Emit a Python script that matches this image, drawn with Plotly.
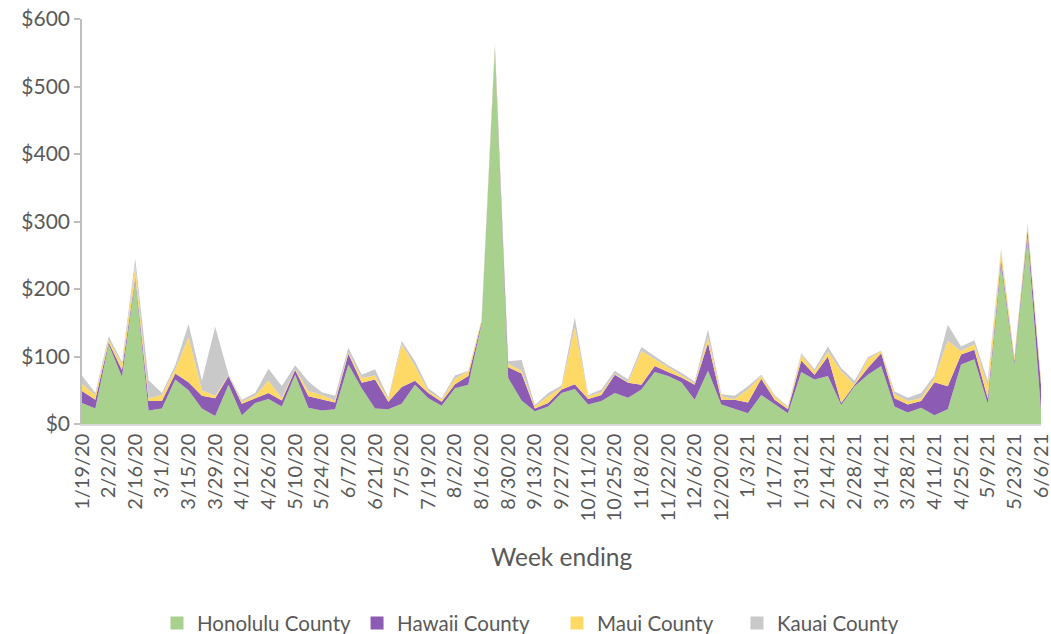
import plotly.graph_objects as go

weeks = ["1/19/20", "1/26/20", "2/2/20", "2/9/20", "2/16/20", "2/23/20", "3/1/20", "3/8/20",
         "3/15/20", "3/22/20", "3/29/20", "4/5/20", "4/12/20", "4/19/20", "4/26/20", "5/3/20",
         "5/10/20", "5/17/20", "5/24/20", "5/31/20", "6/7/20", "6/14/20", "6/21/20", "6/28/20",
         "7/5/20", "7/12/20", "7/19/20", "7/26/20", "8/2/20", "8/9/20", "8/16/20", "8/23/20",
         "8/30/20", "9/6/20", "9/13/20", "9/20/20", "9/27/20", "10/4/20", "10/11/20", "10/18/20",
         "10/25/20", "11/1/20", "11/8/20", "11/15/20", "11/22/20", "11/29/20", "12/6/20", "12/13/20",
         "12/20/20", "12/27/20", "1/3/21", "1/10/21", "1/17/21", "1/24/21", "1/31/21", "2/7/21",
         "2/14/21", "2/21/21", "2/28/21", "3/7/21", "3/14/21", "3/21/21", "3/28/21", "4/4/21",
         "4/11/21", "4/18/21", "4/25/21", "5/2/21", "5/9/21", "5/16/21", "5/23/21", "5/30/21",
         "6/6/21"]

honolulu = [31, 23, 118, 70, 214, 20, 23, 66, 50, 23, 12, 58, 13, 31, 37, 26, 73, 24, 20, 22,
            88, 53, 23, 22, 30, 58, 38, 27, 53, 58, 148, 555, 68, 35, 19, 26, 46, 52, 29, 34,
            46, 39, 51, 77, 71, 62, 36, 79, 29, 23, 16, 43, 29, 16, 77, 66, 71, 28, 56, 73,
            86, 26, 17, 24, 13, 22, 88, 96, 30, 237, 88, 278, 20]
hawaii = [18, 13, 3, 10, 4, 14, 11, 9, 12, 19, 26, 13, 17, 7, 9, 9, 7, 17, 16, 10,
          16, 8, 43, 11, 25, 6, 8, 6, 6, 13, 3, 3, 16, 40, 4, 5, 5, 7, 8, 9,
          27, 22, 7, 9, 6, 7, 22, 41, 7, 13, 16, 24, 7, 6, 17, 7, 29, 3, 2, 10,
          19, 12, 12, 10, 49, 34, 15, 14, 8, 8, 5, 9, 38]
maui = [10, 7, 4, 8, 16, 4, 9, 6, 66, 8, 4, 1, 3, 4, 18, 3, 1, 8, 7, 3,
        2, 7, 6, 3, 63, 22, 3, 3, 8, 7, 3, 3, 5, 4, 3, 10, 3, 84, 4, 4,
        1, 1, 50, 10, 6, 3, 2, 8, 5, 1, 19, 4, 5, 2, 8, 5, 7, 47, 1, 13,
        3, 6, 5, 4, 6, 67, 5, 8, 18, 12, 5, 8, 6]
kauai = [13, 3, 5, 4, 11, 27, 3, 6, 20, 14, 102, 1, 3, 4, 18, 18, 6, 14, 4, 7,
         7, 5, 9, 3, 5, 7, 4, 2, 5, 1, 1, 4, 4, 16, 2, 5, 3, 15, 2, 4,
         5, 4, 6, 4, 4, 4, 3, 12, 3, 5, 5, 2, 2, 2, 3, 3, 8, 5, 5, 3,
         1, 4, 5, 8, 4, 24, 7, 6, 8, 3, 2, 3, 2]

series = [
    ("Honolulu County", honolulu, "#A9D18E"),
    ("Hawaii County", hawaii, "#8C5BB3"),
    ("Maui County", maui, "#FFD966"),
    ("Kauai County", kauai, "#C9C9C9"),
]

y_ticks = [0, 100, 200, 300, 400, 500, 600]
y_labels = ["$0", "$100", "$200", "$300", "$400", "$500", "$600"]

legend_ids = ["legend", "legend2", "legend3", "legend4"]
legend_x = [0.0782, 0.2868, 0.4953, 0.6830]

fig = go.Figure()
for name, vals, color in series:
    fig.add_trace(go.Scatter(
        x=weeks, y=vals, name=name, mode="lines", stackgroup="one",
        line=dict(width=0, color=color), fillcolor=color, showlegend=False,
    ))
# legend entries with square swatches
for (name, vals, color), lid in zip(series, legend_ids):
    fig.add_trace(go.Scatter(
        x=[None], y=[None], name=name, mode="markers", legend=lid,
        marker=dict(symbol="square", size=13, color=color), showlegend=True,
    ))

font_fam = "Lato, 'Liberation Sans', Arial, sans-serif"
legend_style = dict(orientation="h", xanchor="left", y=-0.492, yanchor="middle",
                    font=dict(size=20.5, color="#595959"), itemwidth=30,
                    bgcolor="rgba(0,0,0,0)")
legends = {}
for lid, lx in zip(legend_ids, legend_x):
    legends[lid] = dict(legend_style, x=lx)

fig.update_layout(
    width=1051, height=654,
    margin=dict(l=82, r=10, t=19, b=222),
    paper_bgcolor="white", plot_bgcolor="white",
    font=dict(family=font_fam, color="#595959"),
    showlegend=True,
    xaxis=dict(type="category", range=[0, len(weeks) - 1], automargin=False,
               tickmode="array", tickvals=weeks[::2], ticktext=weeks[::2],
               tickangle=-90, tickfont=dict(size=20, color="#595959"),
               showline=True, linecolor="#D9D9D9", linewidth=1.5,
               showgrid=False, ticks="", zeroline=False),
    yaxis=dict(range=[0, 600], tickmode="array", tickvals=y_ticks, ticktext=y_labels,
               automargin=False,
               tickfont=dict(size=21, color="#595959"),
               showline=True, linecolor="#BFBFBF", linewidth=1.5,
               ticks="outside", ticklen=6, tickcolor="#BFBFBF", tickwidth=1.5,
               showgrid=False, zeroline=False),
    annotations=[dict(text="Week ending", xref="paper", yref="paper", x=0.5, y=-0.327,
                      xanchor="center", yanchor="middle", showarrow=False,
                      font=dict(size=24.5, color="#595959"))],
    **legends,
)

fig.write_html(
    "out.html",
    config={"displayModeBar": False},
    post_script="document.body.style.margin='0';document.body.style.overflow='hidden';",
)
